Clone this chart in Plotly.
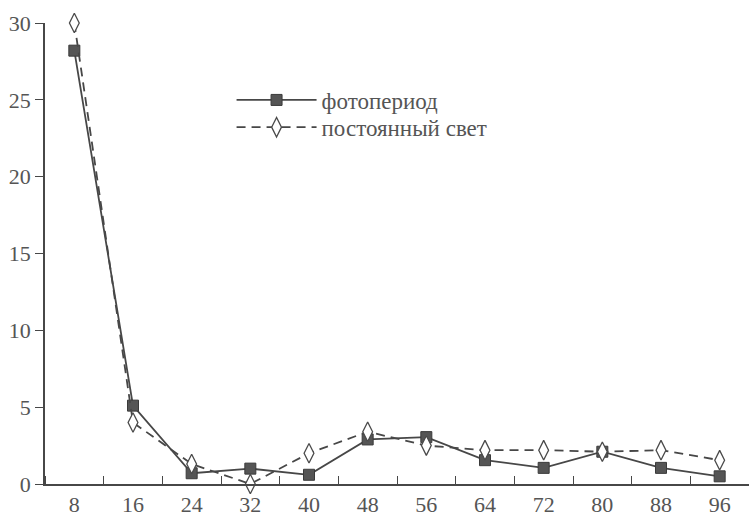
import plotly.graph_objects as go

hours = [8, 16, 24, 32, 40, 48, 56, 64, 72, 80, 88, 96]
photoperiod = [28.2, 5.1, 0.7, 1.0, 0.6, 2.9, 3.05, 1.55, 1.05, 2.1, 1.05, 0.5]
constant_light = [30.0, 4.0, 1.3, 0.0, 2.0, 3.4, 2.5, 2.2, 2.2, 2.1, 2.2, 1.55]
y_ticks = [0, 5, 10, 15, 20, 25, 30]

line_col = "#474747"
font = "Liberation Serif"

fig = go.Figure()
fig.add_trace(go.Scatter(
    x=hours, y=photoperiod, name="фотопериод", mode="lines+markers",
    line=dict(color=line_col, width=1.8),
    marker=dict(symbol="square", size=11, color="#555555", line=dict(color="#3a3a3a", width=1)),
    cliponaxis=False, legend="legend",
))
fig.add_trace(go.Scatter(
    x=hours, y=constant_light, name="постоянный свет", mode="lines+markers",
    line=dict(color=line_col, width=1.8, dash="9px,6px"),
    marker=dict(symbol="diamond-tall", size=14, color="white", line=dict(color="#4a4a4a", width=1.3)),
    cliponaxis=False, legend="legend2",
))

leg_common = dict(xanchor="left", yanchor="middle", bgcolor="rgba(0,0,0,0)",
                  font=dict(size=23, color="#555555"), itemwidth=80)

fig.update_layout(
    width=749, height=516,
    margin=dict(l=45, r=0, t=23, b=32),
    paper_bgcolor="white", plot_bgcolor="white",
    font=dict(family=font, size=22, color="#555555"),
    showlegend=True,
    legend=dict(x=0.265, y=0.833, **leg_common),
    legend2=dict(x=0.265, y=0.774, **leg_common),
    xaxis=dict(range=[4, 100], tickvals=hours, ticktext=[str(h) for h in hours],
               ticks="", showgrid=False, zeroline=False, showline=True,
               linecolor=line_col, linewidth=1.5, automargin=False,
               minor=dict(tick0=12, dtick=8, ticks="inside", ticklen=8,
                          tickcolor=line_col, tickwidth=1.3, showgrid=False),
               tickfont=dict(size=22)),
    yaxis=dict(range=[0, 30], tickvals=y_ticks, ticks="outside", ticklen=8,
               tickcolor=line_col, tickwidth=1.3, showgrid=False, zeroline=False,
               showline=True, linecolor=line_col, linewidth=1.5, automargin=False,
               tickfont=dict(size=22)),
)

fig.write_html("out.html", config={"displayModeBar": False},
               post_script="document.body.style.margin='0';document.body.style.overflow='hidden';")
